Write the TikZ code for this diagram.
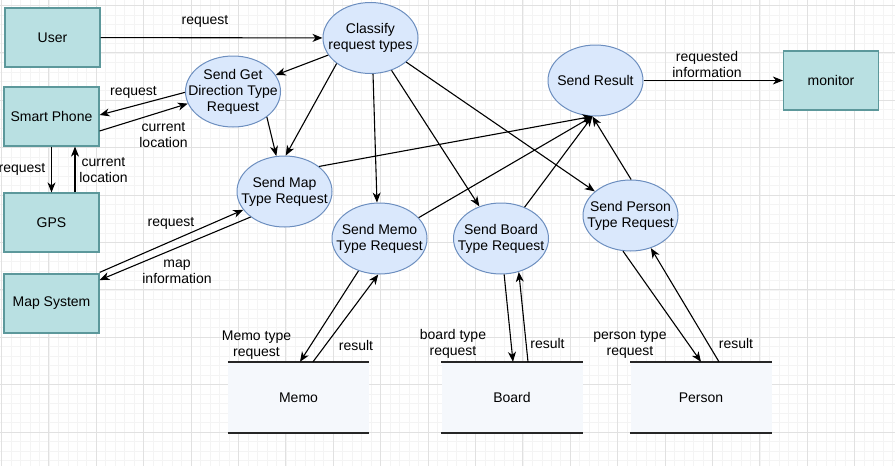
\documentclass[tikz,border=0pt]{standalone}
\usepackage{fontspec}
\setmainfont{Liberation Sans}
\usepackage{tikz}
\usetikzlibrary{shapes.geometric,arrows.meta}
\definecolor{extfill}{RGB}{185,224,226}
\definecolor{extline}{RGB}{92,152,155}
\definecolor{procfill}{RGB}{218,232,252}
\definecolor{procline}{RGB}{108,142,191}
\definecolor{storefill}{RGB}{245,248,252}
\definecolor{gridmajor}{RGB}{225,225,225}
\definecolor{gridminor}{RGB}{244,244,244}

\begin{document}
\begin{tikzpicture}[x=1pt,y=-1pt,font=\fontsize{14}{16}\selectfont,
  ext/.style={rectangle,draw=extline,fill=extfill,line width=1.2pt,minimum width=95pt,minimum height=59pt,inner sep=0pt},
  proc/.style={ellipse,draw=procline,fill=procfill,line width=1pt,minimum width=95pt,minimum height=71pt,inner sep=0pt},
  store/.style={rectangle,fill=storefill,minimum width=141pt,minimum height=71pt,inner sep=0pt},
  flow/.style={line width=1.1pt,-{Stealth[length=10pt,width=8pt,inset=3pt]}},
  txt/.style={align=center,inner sep=0pt}]
\useasboundingbox (0,0) rectangle (895,466);
\fill[white] (0,0) rectangle (895,466);
\begin{scope}[shift={(1.5,5.5)}]
\draw[gridminor,line width=0.7pt,step=9.48pt] (-10,470) grid (900,-10);
\draw[gridmajor,line width=0.9pt,step=47.4pt] (-10,470) grid (900,-10);
\end{scope}
% external entities
\foreach \n/\p/\t in {user/{(52.5,37.5)}/User,phone/{(51.5,116.5)}/Smart Phone,gps/{(51.5,222.5)}/GPS,
  mapsys/{(51.5,303.5)}/Map System,monitor/{(831,80.5)}/monitor}
  \node[ext] (\n) at \p {\t};
% processes
\foreach \n/\p/\t in {classify/{(370.5,38)}/{Classify\\request types},sdir/{(233,91.5)}/{Send Get\\Direction Type\\Request},
  smap/{(284.5,191.5)}/{Send Map\\Type Request},smemo/{(379.5,238.5)}/{Send Memo\\Type Request},
  sboard/{(501,238.5)}/{Send Board\\Type Request},sperson/{(630.5,215.5)}/{Send Person\\Type Request},
  result/{(595.5,80.5)}/{Send Result}}
  \node[proc,label={[txt]center:\t}] (\n) at \p {};
% data stores
\foreach \n/\x/\t in {memo/298.5/Memo,board/512/Board,person/701/Person}{
  \node[store] (\n) at (\x,397.5) {\t};
  \draw[line width=2pt,black!85] (\n.north west)--(\n.north east) (\n.south west)--(\n.south east);}
% flows
\draw[flow] (user) -- (classify);
\draw[flow] (classify.202) -- (sdir.21);
\draw[flow] (classify.217) -- (smap.88);
\draw[flow] (sdir.323) -- (smap.103);
\draw[flow] (classify.274) -- (smemo.94);
\draw[flow] (classify.303) -- (sboard.124);
\draw[flow] (classify.326) -- (sperson.146);
\foreach \a/\n in {36/smap,28/smemo,53/sboard,89/sperson}
  \draw[flow] (\n.\a) -- (result.265);
\draw[flow] (result) -- (monitor);
\draw[flow] (sdir.181) -- ([yshift=1.5pt]phone.east);
\draw[flow] ([yshift=-14.5pt]phone.east) -- (sdir.195);
\draw[flow] (phone) -- (gps);
\draw[flow] ([xshift=23.5pt]gps.north) -- ([xshift=23.5pt]phone.south);
\draw[flow] ([yshift=1pt]mapsys.north east) -- (smap.204);
\draw[flow] (smap.217) -- (mapsys.26);
\draw[flow] (smemo.237) -- ([xshift=1.5pt]memo.north);
\draw[flow] ([xshift=14.5pt]memo.north) -- (smemo.268);
\draw[flow] (sboard.275) -- ([xshift=1pt]board.north);
\draw[flow] ([xshift=16pt]board.north) -- (sboard.298);
\draw[flow] (sperson.258) -- (person.north);
\draw[flow] ([xshift=18pt]person.north) -- (sperson.302);
% flow labels
\foreach \n/\p/\t in {lusr/{(205,21)}/request,ldirreq/{(133.5,92)}/request,ldirloc/{(163.5,135.5)}/{current\\location},
  lgpsreq/{(22,169)}/request,lgpsloc/{(103.5,170)}/{current\\location},lmapreq/{(171,223)}/request,
  lmapinf/{(177,271.5)}/{map\\information},lres/{(707,64)}/{requested\\information},
  lmemoreq/{(256.5,345)}/{Memo type\\request},lmemores/{(356,345)}/result,
  lboardreq/{(453,344)}/{board type\\request},lboardres/{(547.5,343)}/result,
  lpersreq/{(630,344)}/{person type\\request},lpersres/{(736,343)}/result}
  \node[txt] (\n) at \p {\t};
\end{tikzpicture}
\end{document}
